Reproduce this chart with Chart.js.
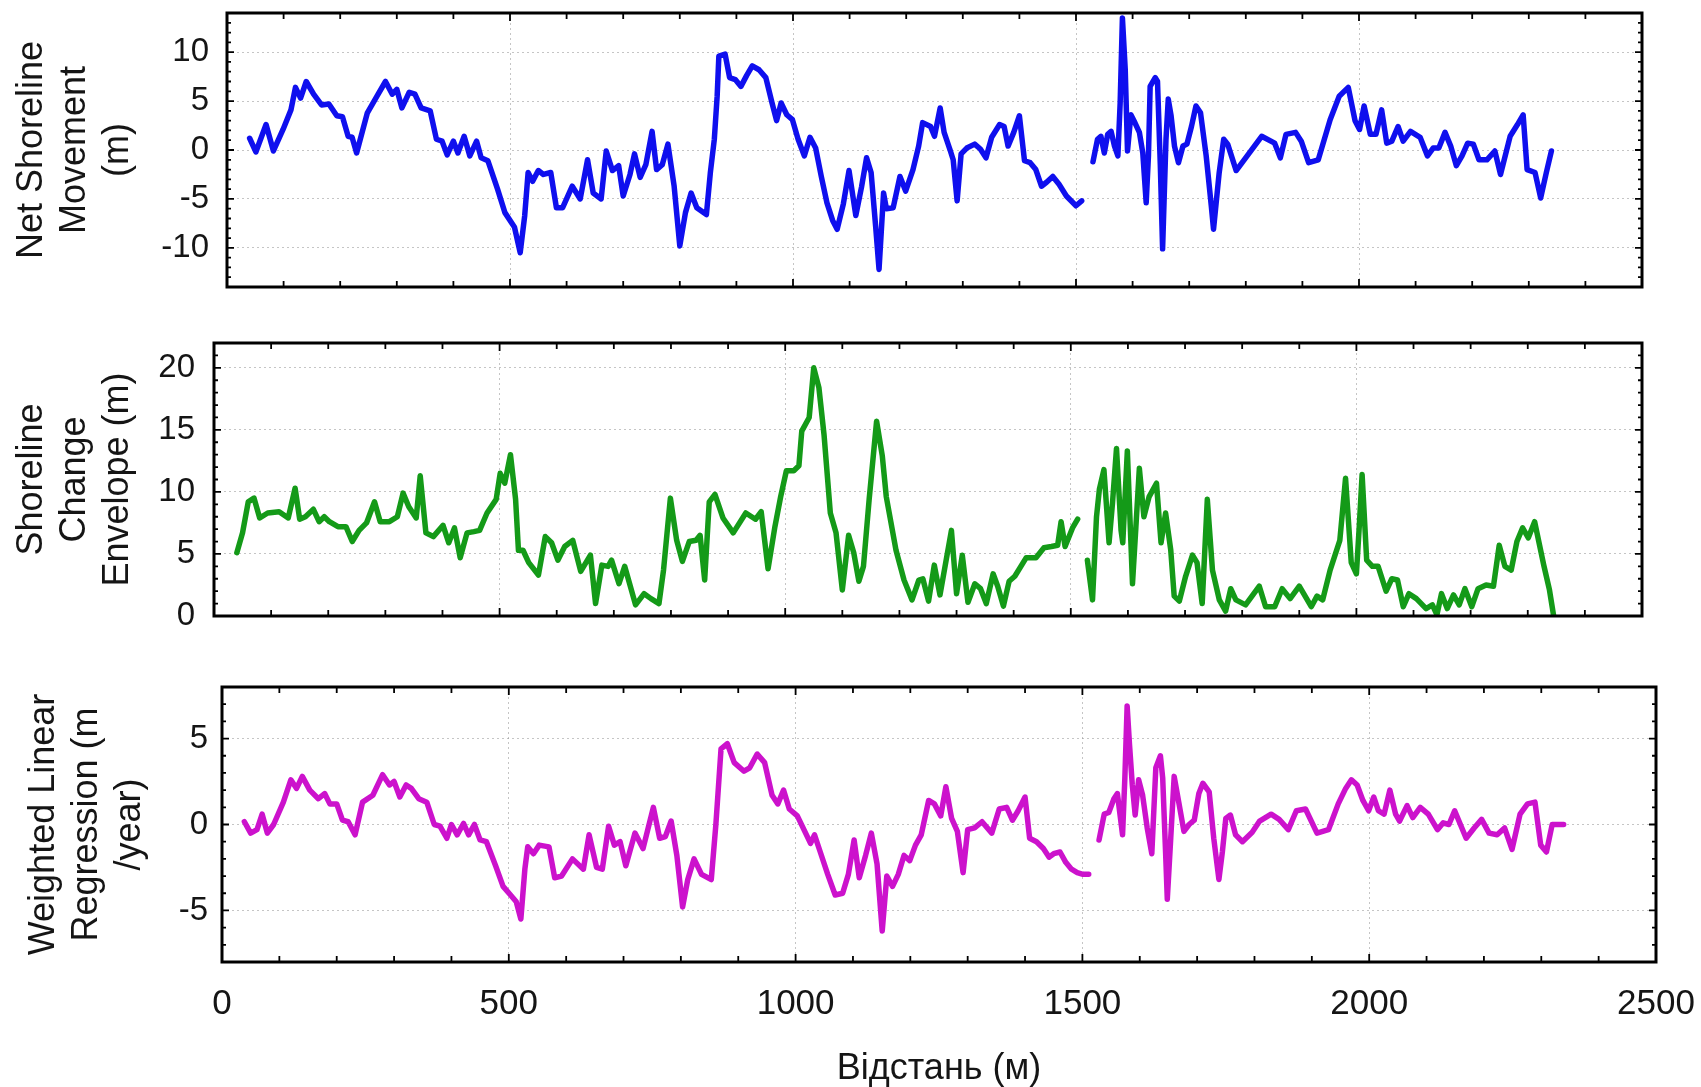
<!DOCTYPE html>
<html>
<head>
<meta charset="utf-8">
<script src="https://cdn.jsdelivr.net/npm/chart.js@4/dist/chart.umd.min.js"></script>
<style>
  body { margin: 0; background: #fff; overflow: hidden; }
  #wrap { position: relative; width: 1701px; height: 1087px; }
  canvas { position: absolute; left: 0; }
</style>
</head>
<body>
<div id="wrap">
  <canvas id="nsmChart" width="1701" height="300" style="top:0"></canvas>
  <canvas id="sceChart" width="1701" height="330" style="top:300px"></canvas>
  <canvas id="wlrChart" width="1701" height="457" style="top:630px"></canvas>
</div>
<script>
// Values: distance along the shore (m) and the value at each transect.
// null marks the break in the line around 1520 m.

// Net Shoreline Movement (m)
const nsmDist = [40, 51, 69, 82, 99, 113, 121, 130, 140, 153, 167, 180, 194, 204, 214, 221, 229, 248, 265, 280,
  292, 300, 309, 322, 332, 343, 359, 370, 380, 389, 400, 408, 419, 429, 441, 449, 461, 478, 491, 508,
  518, 526, 532, 540, 550, 559, 572, 582, 593, 610, 624, 637, 647, 661, 670, 681, 692, 700, 712, 720,
  730, 740, 751, 759, 769, 779, 790, 800, 810, 820, 830, 847, 854, 861, 866, 869, 880, 888, 898, 908,
  918, 928, 940, 952, 963, 971, 979, 989, 999, 1009, 1020, 1030, 1040, 1050, 1060, 1070, 1078, 1089, 1099, 1111,
  1121, 1130, 1138, 1146, 1152, 1160, 1165, 1177, 1189, 1199, 1212, 1222, 1229, 1243, 1250, 1260, 1267, 1277, 1283, 1290,
  1297, 1307, 1321, 1331, 1341, 1351, 1365, 1373, 1380, 1390, 1400, 1409, 1419, 1429, 1439, 1448, 1459, 1470, 1483, 1500,
  1510, 1520, 1530, 1538, 1544, 1550, 1556, 1562, 1568, 1574, 1578, 1582, 1587, 1591, 1597, 1604, 1612, 1618, 1624, 1628,
  1631, 1640, 1644, 1649, 1653, 1659, 1663, 1668, 1674, 1681, 1689, 1696, 1704, 1712, 1720, 1730, 1739, 1743, 1753, 1761,
  1768, 1783, 1805, 1828, 1851, 1861, 1871, 1888, 1898, 1911, 1928, 1949, 1965, 1981, 1993, 2001, 2009, 2020, 2030, 2040,
  2049, 2058, 2069, 2078, 2091, 2108, 2121, 2131, 2141, 2152, 2162, 2172, 2182, 2192, 2202, 2212, 2226, 2240, 2250, 2267,
  2280, 2290, 2297, 2311, 2321, 2331, 2340];
const nsmValue = [1.2, -0.2, 2.6, -0.1, 2.1, 4.1, 6.4, 5.3, 7.0, 5.7, 4.6, 4.7, 3.5, 3.4, 1.4, 1.3, -0.3, 3.8, 5.5, 7.0,
  5.7, 6.2, 4.3, 5.9, 5.7, 4.3, 4.0, 1.1, 0.9, -0.5, 0.9, -0.3, 1.4, -0.6, 0.9, -0.8, -1.1, -4.0, -6.4, -7.9,
  -10.5, -6.7, -2.3, -3.2, -2.1, -2.5, -2.3, -5.9, -5.9, -3.7, -5.0, -1.0, -4.4, -5.0, -0.1, -2.1, -1.6, -4.7, -2.5, -0.4,
  -2.8, -1.5, 1.9, -2.0, -1.5, 0.6, -3.7, -9.8, -6.4, -4.4, -5.9, -6.6, -2.3, 1.1, 5.5, 9.6, 9.8, 7.4, 7.2, 6.5,
  7.6, 8.6, 8.2, 7.4, 4.8, 3.0, 4.8, 3.6, 3.1, 1.1, -0.6, 1.3, 0.2, -2.7, -5.4, -7.2, -8.1, -5.5, -2.1, -6.7,
  -3.8, -0.8, -2.3, -7.8, -12.2, -4.4, -6.0, -5.9, -2.7, -4.2, -2.0, 0.4, 2.8, 2.4, 1.4, 4.3, 1.8, 0.1, -1.0, -5.2,
  -0.4, 0.2, 0.6, 0.1, -0.8, 1.3, 2.6, 2.4, 0.4, 1.8, 3.5, -1.1, -1.3, -2.0, -3.7, -3.3, -2.7, -3.5, -4.7, -5.7,
  -5.2, null, -1.2, 1.1, 1.4, -0.3, 1.6, 1.9, 0.4, -0.6, 4.8, 13.5, 8.2, -0.1, 3.6, 2.8, 1.8, -0.3, -5.4, -0.6,
  6.5, 7.4, 7.0, -1.6, -10.1, 1.1, 5.2, 3.5, 0.4, -1.3, 0.4, 0.6, 2.4, 4.5, 3.8, -0.6, -5.7, -8.1, -2.3, 1.1,
  0.6, -2.1, -0.4, 1.4, 0.7, -0.8, 1.6, 1.8, 0.9, -1.3, -1.0, 3.1, 5.5, 6.4, 3.0, 2.1, 4.5, 1.6, 1.6, 4.1,
  0.7, 0.9, 2.4, 0.9, 1.9, 1.3, -0.6, 0.2, 0.2, 1.8, 0.4, -1.6, -0.6, 0.7, 0.6, -1.0, -1.0, -0.1, -2.5, 1.4,
  2.6, 3.6, -2.0, -2.3, -4.9, -2.3, -0.1];

// Shoreline Change Envelope (m)
const sceDist = [40, 50, 60, 70, 80, 94, 114, 130, 142, 150, 160, 174, 184, 193, 202, 217, 231, 242, 254, 267,
  281, 291, 307, 321, 331, 341, 354, 361, 371, 384, 401, 411, 421, 431, 443, 455, 465, 478, 494, 501,
  509, 519, 528, 533, 541, 551, 568, 580, 591, 602, 614, 628, 642, 659, 668, 679, 690, 696, 709, 719,
  738, 753, 765, 779, 787, 799, 810, 820, 832, 844, 851, 859, 867, 877, 891, 909, 931, 948, 958, 970,
  982, 992, 1002, 1015, 1024, 1029, 1042, 1050, 1059, 1068, 1079, 1089, 1100, 1111, 1120, 1129, 1137, 1147, 1160, 1170,
  1177, 1194, 1208, 1222, 1234, 1241, 1251, 1261, 1271, 1291, 1300, 1310, 1320, 1332, 1342, 1352, 1364, 1372, 1382, 1392,
  1402, 1422, 1439, 1453, 1466, 1477, 1483, 1490, 1503, 1512, 1520, 1529, 1538, 1545, 1550, 1558, 1567, 1573, 1580, 1588,
  1591, 1599, 1608, 1614, 1620, 1628, 1637, 1650, 1658, 1666, 1675, 1681, 1690, 1701, 1713, 1721, 1730, 1739, 1748, 1760,
  1771, 1780, 1789, 1806, 1830, 1841, 1857, 1870, 1884, 1900, 1921, 1931, 1941, 1954, 1971, 1981, 1991, 2000, 2005, 2010,
  2018, 2028, 2038, 2052, 2062, 2072, 2082, 2092, 2105, 2122, 2133, 2141, 2149, 2159, 2170, 2180, 2190, 2202, 2213, 2227,
  2240, 2250, 2260, 2271, 2281, 2291, 2301, 2312, 2328, 2338, 2345];
const sceValue = [5.1, 6.7, 9.2, 9.5, 7.9, 8.3, 8.4, 7.9, 10.3, 7.8, 8.0, 8.6, 7.6, 8.0, 7.6, 7.2, 7.2, 6.0, 6.9, 7.5,
  9.2, 7.6, 7.6, 8.0, 9.9, 8.8, 7.9, 11.3, 6.7, 6.4, 7.3, 5.9, 7.1, 4.7, 6.7, 6.8, 6.9, 8.3, 9.4, 11.5,
  10.7, 13.0, 9.4, 5.3, 5.3, 4.3, 3.3, 6.4, 5.9, 4.5, 5.6, 6.1, 3.6, 4.9, 1.0, 4.1, 4.0, 4.5, 2.6, 4.0,
  0.9, 1.8, 1.4, 1.0, 3.7, 9.5, 6.1, 4.4, 6.0, 6.1, 6.5, 2.9, 9.2, 9.8, 7.9, 6.7, 8.3, 7.8, 8.4, 3.8,
  7.2, 9.6, 11.7, 11.7, 12.1, 14.9, 16.0, 20.0, 18.4, 14.6, 8.3, 6.7, 2.1, 6.5, 5.1, 2.8, 4.0, 9.4, 15.7, 12.9,
  9.6, 5.3, 2.9, 1.3, 2.9, 3.0, 1.2, 4.1, 1.7, 6.9, 1.8, 4.9, 1.1, 2.6, 2.2, 1.0, 3.4, 2.4, 0.8, 2.8,
  3.2, 4.7, 4.7, 5.5, 5.6, 5.7, 7.6, 5.6, 7.1, 7.8, null, 4.5, 1.3, 8.0, 10.2, 11.8, 5.9, 9.1, 13.5, 6.9,
  5.9, 13.3, 2.6, 7.2, 11.9, 8.0, 9.6, 10.7, 5.9, 8.3, 5.3, 1.6, 1.2, 3.2, 4.9, 4.3, 1.0, 9.4, 3.7, 1.3,
  0.4, 2.2, 1.3, 0.9, 2.4, 0.75, 0.75, 2.2, 1.4, 2.4, 0.75, 1.6, 1.3, 3.7, 6.1, 11.1, 4.3, 3.4, 7.2, 11.4,
  4.5, 4.0, 4.0, 2.0, 3.0, 2.9, 0.75, 1.8, 1.4, 0.6, 0.9, 0.1, 1.8, 0.6, 1.7, 0.9, 2.2, 0.75, 2.2, 2.5,
  2.4, 5.7, 4.0, 3.7, 6.0, 7.1, 6.3, 7.6, 4.1, 2.1, 0.1];

// Weighted Linear Regression (m/year)
const wlrDist = [39, 50, 61, 70, 79, 90, 107, 120, 130, 140, 153, 168, 179, 188, 200, 210, 220, 232, 245, 263,
  280, 292, 300, 310, 321, 330, 343, 357, 370, 380, 392, 400, 410, 421, 430, 440, 450, 461, 477, 490,
  503, 513, 521, 528, 533, 543, 553, 570, 580, 592, 611, 630, 640, 653, 663, 674, 684, 694, 704, 720,
  734, 752, 763, 773, 783, 793, 803, 812, 823, 836, 853, 861, 870, 881, 893, 910, 920, 933, 946, 959,
  969, 979, 989, 1003, 1016, 1026, 1033, 1043, 1056, 1069, 1082, 1092, 1102, 1111, 1122, 1132, 1142, 1151, 1159, 1169,
  1179, 1189, 1199, 1209, 1219, 1232, 1242, 1253, 1262, 1272, 1282, 1292, 1300, 1312, 1325, 1342, 1355, 1368, 1378, 1388,
  1400, 1408, 1420, 1432, 1442, 1450, 1461, 1471, 1481, 1491, 1501, 1511, 1520, 1529, 1538, 1546, 1555, 1561, 1570, 1574,
  1578, 1582, 1587, 1592, 1598, 1605, 1613, 1621, 1628, 1636, 1640, 1645, 1648, 1654, 1660, 1668, 1677, 1686, 1695, 1703,
  1710, 1721, 1729, 1738, 1744, 1750, 1758, 1767, 1779, 1796, 1809, 1829, 1843, 1859, 1873, 1889, 1909, 1929, 1946, 1959,
  1969, 1979, 1989, 1999, 2008, 2016, 2026, 2036, 2046, 2053, 2066, 2076, 2089, 2103, 2119, 2129, 2139, 2149, 2159, 2169,
  2183, 2196, 2209, 2223, 2236, 2249, 2263, 2276, 2289, 2299, 2309, 2319, 2339];
const wlrValue = [0.16, -0.5, -0.3, 0.6, -0.5, 0.0, 1.3, 2.6, 2.1, 2.8, 2.0, 1.5, 1.8, 1.2, 1.2, 0.25, 0.16, -0.6, 1.3, 1.7,
  2.9, 2.3, 2.5, 1.6, 2.3, 2.1, 1.5, 1.3, 0.0, -0.1, -0.8, 0.0, -0.6, 0.06, -0.6, 0.0, -0.9, -1.0, -2.4, -3.6,
  -4.1, -4.5, -5.5, -2.6, -1.3, -1.7, -1.2, -1.3, -3.1, -3.0, -2.0, -2.6, -0.6, -2.5, -2.6, -0.1, -1.2, -1.0, -2.4, -0.5,
  -1.4, 1.0, -0.8, -0.7, 0.2, -1.8, -4.8, -3.2, -2.0, -2.9, -3.2, 0.0, 4.4, 4.7, 3.6, 3.1, 3.3, 4.1, 3.6, 1.7,
  1.2, 2.0, 0.9, 0.5, -0.4, -1.1, -0.6, -1.6, -2.9, -4.1, -4.0, -2.9, -0.9, -3.1, -1.8, -0.5, -2.3, -6.2, -3.0, -3.6,
  -2.9, -1.8, -2.1, -1.2, -0.6, 1.4, 1.2, 0.5, 2.2, 0.35, -0.4, -2.8, -0.3, -0.2, 0.16, -0.5, 0.9, 1.0, 0.25, 0.8,
  1.6, -0.8, -1.0, -1.4, -1.9, -1.7, -1.6, -2.2, -2.6, -2.8, -2.9, -2.9, null, -0.9, 0.6, 0.7, 1.5, 1.8, -0.6, 2.7,
  6.9, 4.7, 2.3, 0.55, 2.6, 1.7, -0.2, -1.7, 3.3, 4.0, 2.7, -1.6, -4.35, -0.8, 2.8, 1.3, -0.4, 0.0, 0.25, 1.8,
  2.4, 1.9, -0.8, -3.2, -1.6, 0.35, 0.55, -0.6, -1.0, -0.45, 0.2, 0.6, 0.3, -0.3, 0.8, 0.9, -0.5, -0.3, 1.2, 2.1,
  2.6, 2.3, 1.4, 0.8, 1.6, 0.8, 0.6, 2.0, 0.6, 0.2, 1.1, 0.4, 1.0, 0.6, -0.3, 0.1, 0.0, 0.8, 0.0, -0.8,
  -0.2, 0.3, -0.5, -0.6, -0.2, -1.45, 0.6, 1.2, 1.3, -1.2, -1.6, 0.0, 0.0];

// tick labels
const xTicks = [0, 500, 1000, 1500, 2000, 2500];
const nsmTicks = [-10, -5, 0, 5, 10];
const sceTicks = [0, 5, 10, 15, 20];
const wlrTicks = [-5, 0, 5];

const FONT = "'Liberation Sans', Arial, sans-serif";
const TEXT = '#151515';

// black box round the plot with small inward ticks, like the original figure
const framePlugin = {
  id: 'frame',
  afterDatasetsDraw(chart) {
    const { ctx, chartArea: a, scales: { x, y } } = chart;
    ctx.save();
    ctx.strokeStyle = '#000';
    ctx.beginPath();
    for (let v = x.min; v <= x.max; v += 100) {
      const px = x.getPixelForValue(v);
      const len = v % 500 === 0 ? 8 : 6;
      ctx.moveTo(px, a.top); ctx.lineTo(px, a.top + len);
      ctx.moveTo(px, a.bottom); ctx.lineTo(px, a.bottom - len);
    }
    for (let v = Math.ceil(y.min); v <= y.max; v += 1) {
      const py = y.getPixelForValue(v);
      const len = v % 5 === 0 ? 7 : 4;
      ctx.moveTo(a.left, py); ctx.lineTo(a.left + len, py);
      ctx.moveTo(a.right, py); ctx.lineTo(a.right - len, py);
    }
    ctx.lineWidth = 1.8;
    ctx.stroke();
    ctx.lineWidth = 3;
    ctx.strokeRect(a.left, a.top, a.right - a.left, a.bottom - a.top);
    ctx.restore();
  }
};

function makePanel(id, p) {
  const gridStyle = { color: 'rgba(150,150,150,0.55)', lineWidth: 1, drawTicks: false };
  return new Chart(document.getElementById(id), {
    type: 'line',
    data: {
      datasets: [{
        data: p.dist.map((d, i) => ({ x: d, y: p.values[i] })),
        borderColor: p.color,
        borderWidth: 5.5,
        pointRadius: 0,
        tension: 0,
        spanGaps: false,
        borderJoinStyle: 'round',
        borderCapStyle: 'round'
      }]
    },
    options: {
      responsive: false,
      animation: false,
      events: [],
      layout: { padding: { top: p.top, right: 1701 - p.right, left: 0, bottom: 0 } },
      scales: {
        x: {
          type: 'linear',
          min: 0,
          max: 2500,
          afterBuildTicks: s => { s.ticks = xTicks.map(v => ({ value: v })); },
          afterFit: s => {
            s.height = p.xHeight;
            s.paddingLeft = 0; s.paddingRight = 0;
          },
          grid: gridStyle,
          border: { display: false, dash: [2, 3] },
          ticks: {
            display: p.showX,
            padding: 21,
            color: TEXT,
            font: { family: FONT, size: 35 },
            callback: v => String(v)
          },
          title: {
            display: p.showX,
            text: 'Відстань (м)',
            color: TEXT,
            font: { family: FONT, size: 36, lineHeight: 1.0 },
            padding: { top: 0, bottom: 0 }
          }
        },
        y: {
          min: p.min,
          max: p.max,
          afterBuildTicks: s => { s.ticks = p.ticks.map(v => ({ value: v })); },
          afterFit: s => {
            s.width = p.left;
            s.paddingTop = 0; s.paddingBottom = 0;
          },
          grid: gridStyle,
          border: { display: false, dash: [2, 3] },
          ticks: {
            padding: p.tickPad,
            color: TEXT,
            font: { family: FONT, size: 33 },
            callback: v => String(v)
          },
          title: {
            display: true,
            text: p.title,
            color: TEXT,
            font: { family: FONT, size: 36, lineHeight: 1.2 },
            padding: { top: p.titlePad, bottom: 0 }
          }
        }
      },
      plugins: { legend: { display: false }, tooltip: { enabled: false } }
    },
    plugins: [framePlugin]
  });
}

makePanel('nsmChart', {
  dist: nsmDist, values: nsmValue, color: '#0f0fee',
  min: -14, max: 14, ticks: nsmTicks,
  title: ['Net Shoreline', 'Movement', '(m)'],
  top: 13, left: 227, right: 1642, xHeight: 13, showX: false, tickPad: 18, titlePad: 10
});

makePanel('sceChart', {
  dist: sceDist, values: sceValue, color: '#149a18',
  min: 0, max: 22, ticks: sceTicks,
  title: ['Shoreline', 'Change', 'Envelope (m)'],
  top: 43, left: 214, right: 1642, xHeight: 14, showX: false, tickPad: 19, titlePad: 10
});

makePanel('wlrChart', {
  dist: wlrDist, values: wlrValue, color: '#cc12cc',
  min: -8, max: 8, ticks: wlrTicks,
  title: ['Weighted Linear', 'Regression (m', '/year)'],
  top: 57, left: 222, right: 1656, xHeight: 125, showX: true, tickPad: 14, titlePad: 22
});
</script>
</body>
</html>
